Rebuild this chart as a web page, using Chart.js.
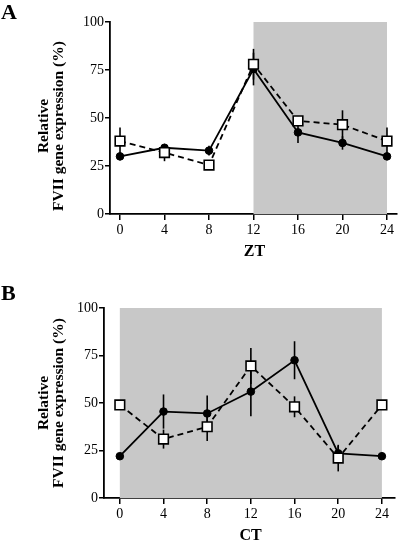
<!DOCTYPE html>
<html>
<head>
<meta charset="utf-8">
<script src="https://cdn.jsdelivr.net/npm/chart.js@4"></script>
<style>
  body { margin: 0; background: #fff; }
  .panel { position: absolute; left: 0; width: 400px; height: 270px; }
</style>
</head>
<body>
<div class="panel" style="top:0"><canvas id="chartA" width="400" height="270"></canvas></div>
<div class="panel" style="top:270px"><canvas id="chartB" width="400" height="270"></canvas></div>
<script>
// ========== DATA ========== //
const hours = [0, 4, 8, 12, 16, 20, 24];
const yTicks = [0, 25, 50, 75, 100];

// panel A (ZT)
const ztSolid = [30, 34.5, 33, 75.5, 42.5, 37, 30];
const ztSolidErr = [2, 2, 2.5, 8.5, 5.5, 3.5, 1];
const ztOpen = [38, 32, 25.5, 78, 48.5, 46.5, 38];
const ztOpenErr = [7, 4.5, 1.5, 8, 2.5, 7.5, 7];
const ztShade = [12, 24];

// panel B (CT)
const ctSolid = [22, 45.5, 44.5, 56, 72.5, 23.5, 22];
const ctSolidErr = [1, 9, 9.5, 13, 10, 4, 1];
const ctOpen = [49, 31, 37.5, 69.5, 48, 21, 49];
const ctOpenErr = [2, 5, 7.5, 9.5, 5.5, 7, 2];
const ctShade = [0, 24];

const FONT = "'Liberation Serif', serif";
Chart.defaults.font.family = FONT;
Chart.defaults.color = "#000";

// ========== PLUGINS ========== //
function shadePlugin(range) {
  return {
    id: "shade",
    beforeDatasetsDraw(chart) {
      const { ctx, scales: { x, y } } = chart;
      const x1 = x.getPixelForValue(range[0]);
      const x2 = x.getPixelForValue(range[1]);
      const y1 = y.getPixelForValue(100);
      const y2 = y.getPixelForValue(0);
      ctx.save();
      ctx.fillStyle = "#c8c8c8";
      ctx.fillRect(x1, y1, x2 - x1, y2 - y1);
      ctx.restore();
    }
  };
}

function errPlugin(sets) {
  return {
    id: "errbars",
    beforeDatasetsDraw(chart) {
      const { ctx, scales: { x, y } } = chart;
      ctx.save();
      ctx.strokeStyle = "#000";
      ctx.lineWidth = 1.6;
      sets.forEach(([vals, errs]) => {
        vals.forEach((v, i) => {
          const px = x.getPixelForValue(hours[i]);
          ctx.beginPath();
          ctx.moveTo(px, y.getPixelForValue(v - errs[i]));
          ctx.lineTo(px, y.getPixelForValue(v + errs[i]));
          ctx.stroke();
        });
      });
      ctx.restore();
    }
  };
}

function textPlugin(letter, letterY, xTitle, yTitleCenter) {
  return {
    id: "texts",
    afterDraw(chart) {
      const { ctx, chartArea } = chart;
      ctx.save();
      ctx.fillStyle = "#000";
      ctx.textBaseline = "alphabetic";
      ctx.textAlign = "left";
      ctx.font = "bold 22px " + FONT;
      ctx.fillText(letter, 1, letterY);

      ctx.textAlign = "center";
      ctx.textBaseline = "middle";
      ctx.font = "bold 16px " + FONT;
      ctx.fillText(xTitle, (chartArea.left + chartArea.right) / 2 + 1, chartArea.bottom + 38);

      ctx.font = "bold 15.5px " + FONT;
      ctx.translate(44, yTitleCenter);
      ctx.rotate(-Math.PI / 2);
      ctx.fillText("Relative", 0, 0);
      ctx.fillText("FVII gene expression (%)", 0, 15);
      ctx.restore();
    }
  };
}

// ========== CHART BUILDER ========== //
function makePanel(id, solid, open, cfg) {
  const pts = arr => arr.map((v, i) => ({ x: hours[i], y: v }));
  const axisGrid = {
    drawOnChartArea: false,
    drawTicks: true,
    tickLength: 5,
    color: "#000",
    lineWidth: 1.5
  };
  const axisBorder = { display: true, color: "#000", width: 1.8 };

  new Chart(document.getElementById(id), {
    type: "line",
    data: {
      datasets: [
        {
          data: pts(open),
          borderColor: "#000",
          borderWidth: 1.8,
          borderDash: [6, 4],
          pointStyle: "rect",
          pointRadius: 6.8,
          pointBackgroundColor: "#fff",
          pointBorderColor: "#000",
          pointBorderWidth: 1.6,
          tension: 0
        },
        {
          data: pts(solid),
          borderColor: "#000",
          borderWidth: 1.8,
          pointStyle: "circle",
          pointRadius: 3.8,
          pointBackgroundColor: "#000",
          pointBorderColor: "#000",
          pointBorderWidth: 1,
          tension: 0
        }
      ]
    },
    options: {
      responsive: false,
      animation: false,
      layout: { autoPadding: false, padding: { top: cfg.top, right: cfg.right, left: 0, bottom: 0 } },
      plugins: { legend: { display: false }, tooltip: { enabled: false } },
      scales: {
        x: {
          type: "linear",
          min: cfg.xMin,
          max: cfg.xMax,
          afterFit: s => { s.height = cfg.xHeight; s.paddingLeft = 0; s.paddingRight = 0; },
          afterBuildTicks: s => { s.ticks = hours.map(v => ({ value: v })); },
          grid: Object.assign({}, axisGrid, { tickLength: 6 }),
          border: axisBorder,
          ticks: { color: "#000", font: { family: FONT, size: 14 }, padding: 2, maxRotation: 0 }
        },
        y: {
          min: 0,
          max: 100,
          afterFit: s => { s.width = cfg.yWidth; s.paddingTop = 0; s.paddingBottom = 0; },
          afterBuildTicks: s => { s.ticks = yTicks.map(v => ({ value: v })); },
          grid: axisGrid,
          border: axisBorder,
          ticks: { color: "#000", font: { family: FONT, size: 14 }, padding: 1 }
        }
      }
    },
    plugins: [
      shadePlugin(cfg.shade),
      errPlugin([[open, cfg.openErr], [solid, cfg.solidErr]]),
      textPlugin(cfg.letter, cfg.letterY, cfg.xTitle, cfg.yTitleCenter)
    ]
  });
}

makePanel("chartA", ztSolid, ztOpen, {
  top: 22, right: 3, xHeight: 56, yWidth: 110,
  xMin: -0.9, xMax: 24.9,
  shade: ztShade, solidErr: ztSolidErr, openErr: ztOpenErr,
  letter: "A", letterY: 19, xTitle: "ZT", yTitleCenter: 126
});

makePanel("chartB", ctSolid, ctOpen, {
  top: 38, right: 5, xHeight: 42, yWidth: 104,
  xMin: -1.45, xMax: 25.2,
  shade: ctShade, solidErr: ctSolidErr, openErr: ctOpenErr,
  letter: "B", letterY: 30, xTitle: "CT", yTitleCenter: 133
});
</script>
</body>
</html>
